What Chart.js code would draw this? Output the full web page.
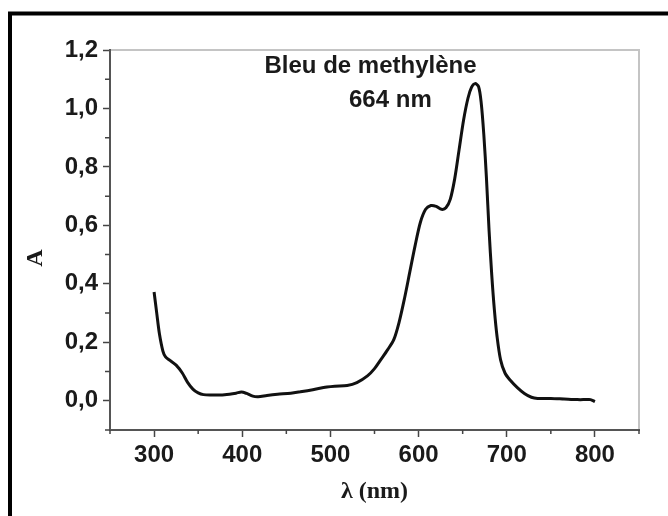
<!DOCTYPE html>
<html><head><meta charset="utf-8">
<script src="https://cdn.jsdelivr.net/npm/chart.js@4/dist/chart.umd.min.js"></script>
<style>html,body{margin:0;padding:0;background:#fff}#wrap{width:668px;height:516px;position:relative}</style>
</head><body><div id="wrap"><canvas id="c" width="668" height="516"></canvas></div>
<script>
const wavelengths = [300,303,306,310,313,318,325,332,338,344,350,356,365,380,393,399,405,412,418,428,440,455,466,480,496,505,519,530,542,550,557,565,572,578,584,590,596,602,608,614,620,626,631,636,641,646,651,656,660,664,668,671,674,677,680,683,686,689,693,698,704,712,720,728,735,750,765,780,790,795,800];
const absorbance = [0.372,0.30,0.23,0.17,0.15,0.138,0.122,0.095,0.063,0.04,0.027,0.021,0.02,0.021,0.026,0.03,0.025,0.016,0.014,0.018,0.022,0.026,0.031,0.038,0.047,0.05,0.052,0.062,0.085,0.11,0.14,0.175,0.21,0.27,0.35,0.44,0.53,0.61,0.655,0.668,0.665,0.655,0.66,0.69,0.76,0.86,0.96,1.035,1.072,1.085,1.075,1.02,0.91,0.76,0.58,0.43,0.31,0.22,0.14,0.095,0.07,0.045,0.025,0.012,0.008,0.008,0.006,0.004,0.004,0.004,-0.003];
const xMajorTicks = [300,400,500,600,700,800];
const xMinorTicks = [250,350,450,550,650,750,850];
const yMajorTicks = [0,0.2,0.4,0.6,0.8,1.0,1.2];
const yMinorTicks = [-0.1,0.1,0.3,0.5,0.7,0.9,1.1];
const xAxisTitle = 'λ (nm)';
const yAxisTitle = 'A';
const noteLines = ['Bleu de methylène','664 nm'];
const noteAnchors = [[545.5,1.121],[568,1.005]];

const framePlugin = {
  id:'frame',
  beforeDraw(chart){
    const ctx = chart.ctx;
    ctx.save();
    ctx.fillStyle='#fff';
    ctx.fillRect(0,0,chart.width,chart.height);
    ctx.strokeStyle='#000';
    ctx.lineWidth=4;
    ctx.beginPath();
    ctx.moveTo(10,516); ctx.lineTo(10,13.5); ctx.lineTo(668,13.5);
    ctx.stroke();
    const a = chart.chartArea;
    ctx.strokeStyle='#c4c4c4';
    ctx.lineWidth=2;
    ctx.beginPath();
    ctx.moveTo(a.left,a.top); ctx.lineTo(a.right,a.top); ctx.lineTo(a.right,a.bottom);
    ctx.stroke();
    ctx.restore();
  },
  afterDraw(chart){
    const ctx = chart.ctx, x = chart.scales.x, y = chart.scales.y, a = chart.chartArea;
    ctx.save();
    ctx.strokeStyle='#444';
    ctx.lineWidth=1.5;
    ctx.beginPath();
    xMinorTicks.forEach(v=>{const p=x.getPixelForValue(v); ctx.moveTo(p,a.bottom); ctx.lineTo(p,a.bottom+4);});
    yMinorTicks.forEach(v=>{const p=y.getPixelForValue(v); ctx.moveTo(a.left-5,p); ctx.lineTo(a.left,p);});
    ctx.stroke();
    ctx.fillStyle='#1a1a1a';
    ctx.font='bold 24px "Liberation Sans", Arial, sans-serif';
    ctx.textAlign='center';
    ctx.textBaseline='alphabetic';
    noteLines.forEach((t,i)=>{
      ctx.fillText(t, x.getPixelForValue(noteAnchors[i][0]), y.getPixelForValue(noteAnchors[i][1]));
    });
    ctx.restore();
  }
};

const tickFont = {family:'"Liberation Sans", Arial, sans-serif', size:24, weight:'bold'};
const titleFont = {family:'"Liberation Serif", "Times New Roman", serif', size:24, weight:'bold', lineHeight:1.2};

new Chart(document.getElementById('c'), {
  type:'line',
  data:{datasets:[{
    data: wavelengths.map((w,i)=>({x:w,y:absorbance[i]})),
    borderColor:'#111', borderWidth:3, pointRadius:0, tension:0.3, fill:false
  }]},
  options:{
    responsive:false, animation:false, devicePixelRatio:1,
    layout:{padding:{left:20,top:50,right:29,bottom:0}},
    plugins:{legend:{display:false},tooltip:{enabled:false}},
    scales:{
      x:{
        type:'linear', min:250, max:850,
        afterBuildTicks:s=>{s.ticks = xMajorTicks.map(v=>({value:v}));},
        afterFit:s=>{s.height=86;},
        ticks:{font:tickFont, color:'#1a1a1a', maxRotation:0, autoSkip:false, padding:4, callback:v=>String(v)},
        grid:{drawOnChartArea:false, drawTicks:true, tickLength:7, tickColor:'#444', tickWidth:1.5},
        border:{display:true, color:'#555', width:2},
        title:{display:true, text:xAxisTitle, font:titleFont, color:'#1a1a1a', padding:{top:0,bottom:10}}
      },
      y:{
        type:'linear', min:-0.1, max:1.2,
        afterBuildTicks:s=>{s.ticks = yMajorTicks.map(v=>({value:v}));},
        afterFit:s=>{s.width=90;},
        ticks:{font:tickFont, color:'#1a1a1a', padding:5, autoSkip:false, callback:v=>Number(v).toFixed(1).replace('.',',')},
        grid:{drawOnChartArea:false, drawTicks:true, tickLength:7, tickColor:'#444', tickWidth:1.5},
        border:{display:true, color:'#555', width:2},
        title:{display:true, text:yAxisTitle + '\u00a0\u00a0\u00a0\u00a0\u00a0\u00a0', font:titleFont, color:'#1a1a1a', padding:{top:1,bottom:0}}
      }
    }
  },
  plugins:[framePlugin]
});
</script></body></html>
